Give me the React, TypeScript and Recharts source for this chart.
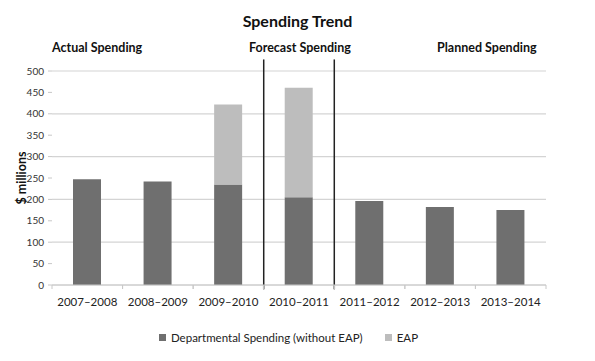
import { BarChart, Bar, XAxis, YAxis, CartesianGrid, ReferenceLine, Legend } from 'recharts'

const years = ['2007–2008', '2008–2009', '2009–2010', '2010–2011', '2011–2012', '2012–2013', '2013–2014']
const departmental = [247, 242, 235, 205, 196, 182, 175]
const eap = [0, 0, 187, 256, 0, 0, 0]
const yTicks = [0, 50, 100, 150, 200, 250, 300, 350, 400, 450, 500]
// section dividers sit at the start of these categories
const sectionStarts = ['2010–2011', '2011–2012']

const DARK = '#6f6f6f'
const LIGHT = '#bdbdbd'
const FONT = 'Lato, "Open Sans", sans-serif'

const data = years.map((year, i) => ({ year, departmental: departmental[i], eap: eap[i] || null }))

// tick marks go on the category boundaries, labels in the middle
function YearTick(props: any) {
  const { x, y, payload } = props
  const half = payload.offset ?? 0
  return (
    <g>
      <line x1={x - half} x2={x - half} y1={y - 4} y2={y} stroke="#c8c8c8" />
      <line x1={x + half} x2={x + half} y1={y - 4} y2={y} stroke="#c8c8c8" />
      <text x={x} y={y + 17} textAnchor="middle" fontFamily={FONT} fontSize={11.5} fill="#222">{payload.value}</text>
    </g>
  )
}

function LegendContent() {
  const items = [
    { label: 'Departmental Spending (without EAP)', color: DARK },
    { label: 'EAP', color: LIGHT },
  ]
  return (
    <div style={{ display: 'flex', justifyContent: 'center', gap: 22, fontFamily: FONT, fontSize: 11.5, color: '#222' }}>
      {items.map(it => (
        <span key={it.label} style={{ display: 'flex', alignItems: 'center', gap: 5 }}>
          <span style={{ width: 7, height: 7, background: it.color, display: 'inline-block' }} />
          {it.label}
        </span>
      ))}
    </div>
  )
}

export default function App() {
  const label = { position: 'absolute' as const, fontFamily: FONT, fontWeight: 700, color: '#111', whiteSpace: 'nowrap' as const }
  return (
    <div style={{ position: 'absolute', left: 0, top: 0, width: 595, height: 361, background: '#fff' }}>
      <div style={{ ...label, left: 0, width: 595, top: 11, textAlign: 'center', fontSize: 16 }}>Spending Trend</div>
      <div style={{ ...label, left: 52, top: 40, fontSize: 12.5 }}>Actual Spending</div>
      <div style={{ ...label, left: 249, top: 40, fontSize: 12.5 }}>Forecast Spending</div>
      <div style={{ ...label, left: 437, top: 40, fontSize: 12.5 }}>Planned Spending</div>
      <div style={{ ...label, left: 21, top: 178, fontSize: 12.5, transform: 'translate(-50%, -50%) rotate(-90deg)' }}>$ millions</div>
      <BarChart width={595} height={361} data={data} margin={{ top: 71, right: 49, bottom: 26, left: 0 }} barSize={28}>
        <CartesianGrid vertical={false} stroke="#d4d4d4" strokeWidth={1.2} />
        <XAxis dataKey="year" tickLine={false} axisLine={{ stroke: '#c8c8c8' }} tickSize={4} tickMargin={0}
          tick={<YearTick />} height={22} interval={0} />
        <YAxis domain={[0, 500]} ticks={yTicks} width={52} axisLine={false} tickLine={{ stroke: '#c8c8c8' }}
          tickSize={4} tickMargin={4} tick={{ fontFamily: FONT, fontSize: 10, fill: '#333' }} />
        <Legend verticalAlign="bottom" height={28} content={<LegendContent />}
          wrapperStyle={{ top: 331, bottom: 'auto', left: 0, width: 577 }} />
        <Bar dataKey="departmental" stackId="s" fill={DARK} isAnimationActive={false} />
        <Bar dataKey="eap" stackId="s" fill={LIGHT} isAnimationActive={false} />
        {sectionStarts.map(x => (
          <ReferenceLine key={x} position="start" segment={[{ x, y: -10 }, { x, y: 527 }]} ifOverflow="visible"
            stroke="#222" strokeWidth={1.5} />
        ))}
      </BarChart>
    </div>
  )
}
